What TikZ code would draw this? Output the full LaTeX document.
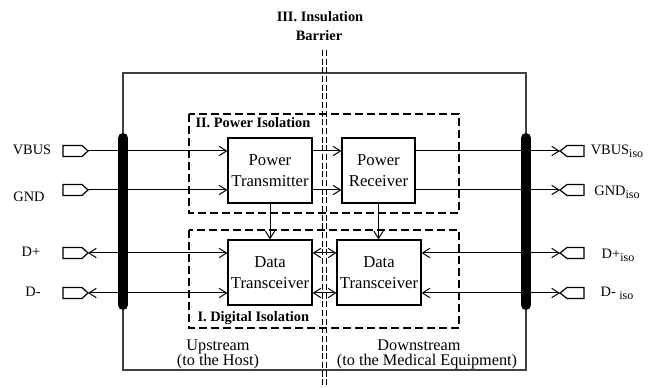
\documentclass[tikz,border=0pt]{standalone}
\usepackage{fontspec}
\setmainfont{Liberation Serif}
\usetikzlibrary{arrows.meta}
\newcommand\isosub{\raisebox{-0.45ex}{\fontsize{9}{9}\selectfont iso}}
\begin{document}
\begin{tikzpicture}[x=0.75pt,y=-0.75pt,
  line width=0.75pt,
  >={Straight Barb[length=5.5pt,width=7pt]},
  blk/.style={draw, line width=0.9pt, inner sep=0pt, align=center, font=\fontsize{12.5}{16.3}\selectfont},
  lbl/.style={anchor=base, inner sep=0pt, font=\fontsize{10.8}{13}\selectfont},
  zonelbl/.style={anchor=base west, inner sep=0pt, font=\bfseries\fontsize{10.8}{12}\selectfont},
  sidelbl/.style={anchor=base, inner sep=0pt, font=\fontsize{12.2}{13}\selectfont},
  zone/.style={draw, dash pattern=on 6pt off 3pt, line width=0.8pt},
  barrier/.style={draw, dash pattern=on 4.5pt off 2pt, line width=0.6pt},
  bus/.style={line width=7.5pt, line cap=round},
  conn/.style={draw, line width=0.9pt, line join=miter},
  ]
\useasboundingbox (0,0) rectangle (654,388);

% outer frame
\draw[line width=0.8pt, draw=black!75] (123,73) rectangle (526,370);

% insulation barrier
\draw[barrier] (322.5,50) -- (322.5,388);
\draw[barrier] (326.5,50) -- (326.5,388);
\node[anchor=base, inner sep=0pt, font=\bfseries\fontsize{10.8}{14}\selectfont] (title1) at (320,22) {III. Insulation};
\node[anchor=base, inner sep=0pt, font=\bfseries\fontsize{10.8}{14}\selectfont] (title2) at (319,41) {Barrier};

% isolation zones
\draw[zone] (189,114) rectangle (459,213);
\draw[zone] (189,230) rectangle (459,328);
\node[zonelbl] (pwrlbl) at (195,128) {II. Power Isolation};
\node[zonelbl] (diglbl) at (197,322) {I. Digital Isolation};

% blocks
\node[blk, minimum width=63pt, minimum height=48.75pt] (pt) at (270,170.5) {Power\\Transmitter};
\node[blk, minimum width=54.75pt, minimum height=48.75pt] (pr) at (378.5,170.5) {Power\\Receiver};
\node[blk, minimum width=63pt, minimum height=48.75pt] (dtl) at (270,272.5) {Data\\Transceiver};
\node[blk, minimum width=63pt, minimum height=48.75pt] (dtr) at (379,272.5) {Data\\Transceiver};

% connectors
\foreach \n/\y in {lv/151, lg/190, ldp/253, ldm/293} {
  \draw[conn] (63,\y-5.5) -- (82,\y-5.5) -- (88,\y) -- (82,\y+5.5) -- (63,\y+5.5) -- cycle;
  \coordinate (\n) at (88,\y);
}
\foreach \n/\y in {rv/151, rg/190, rdp/253, rdm/293} {
  \draw[conn] (584,\y-5.5) -- (567,\y-5.5) -- (560,\y) -- (567,\y+5.5) -- (584,\y+5.5) -- cycle;
  \coordinate (\n) at (560,\y);
}

% labels
\node[lbl] (tvbus) at (32,155) {VBUS};
\node[lbl] (tgnd) at (29,202) {GND};
\node[lbl] (tdp) at (31,257) {D+};
\node[lbl] (tdm) at (33,297) {D-};
\node[lbl] (tvbusi) at (617,155) {VBUS\isosub};
\node[lbl] (tgndi) at (617,196) {GND\isosub};
\node[lbl] (tdpi) at (618,259) {D+\isosub};
\node[lbl] (tdmi) at (617,297) {D- \isosub};

% power path
\draw[->] (lv) -- (lv -| pt.west);
\draw[->] (lg) -- (lg -| pt.west);
\draw[->] (lv -| pt.east) -- (lv -| pr.west);
\draw[->] (lg -| pt.east) -- (lg -| pr.west);
\draw[->] (lv -| pr.east) -- (rv);
\draw[->] (lg -| pr.east) -- (rg);
\draw[->] (pt.south) -- (dtl.north);
\draw[->] (pr.south) -- (pr.south |- dtr.north);

% data path
\draw[<->] (ldp) -- (ldp -| dtl.west);
\draw[<->] (ldm) -- (ldm -| dtl.west);
\draw[<->] (ldp -| dtl.east) -- (ldp -| dtr.west);
\draw[<->] (ldm -| dtl.east) -- (ldm -| dtr.west);
\draw[<->] (ldp -| dtr.east) -- (rdp);
\draw[<->] (ldm -| dtr.east) -- (rdm);

% buses
\draw[bus] (123,138) -- (123,305);
\draw[bus] (526,138) -- (526,305);

% sides
\node[sidelbl] (up1) at (218,351) {Upstream};
\node[sidelbl] (up2) at (218,366) {(to the Host)};
\node[sidelbl] (dn1) at (419,351) {Downstream};
\node[sidelbl] (dn2) at (427,366) {(to the Medical Equipment)};
\end{tikzpicture}
\end{document}
